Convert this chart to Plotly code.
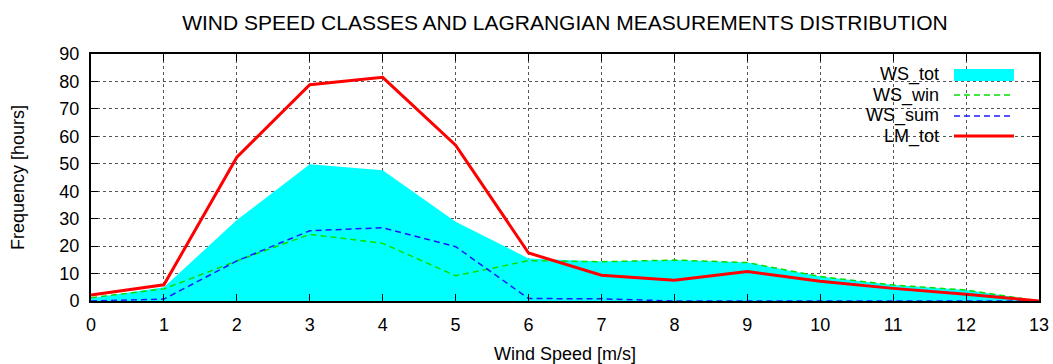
import plotly.graph_objects as go

# Wind speed classes [m/s]
wind_speed = [0, 1, 2, 3, 4, 5, 6, 7, 8, 9, 10, 11, 12, 13]

# Hours per wind speed class
ws_tot = [1.0, 5.0, 29.5, 49.8, 47.6, 28.9, 15.5, 14.4, 14.9, 14.0, 8.9, 5.8, 4.0, 0.0]
ws_win = [1.2, 4.4, 14.6, 24.3, 21.0, 9.2, 14.7, 14.3, 14.9, 14.0, 8.9, 5.8, 4.0, 0.0]
ws_sum = [0.0, 0.7, 14.6, 25.6, 26.7, 19.8, 0.9, 0.8, 0.0, 0.0, 0.0, 0.0, 0.0, 0.0]
lm_tot = [2.2, 5.9, 52.4, 78.8, 81.5, 56.8, 17.5, 9.4, 7.6, 10.7, 7.2, 4.6, 2.5, 0.0]

x_ticks = list(range(0, 14))
y_ticks = list(range(0, 91, 10))

FONT = "Liberation Sans, Arial, Helvetica, sans-serif"

fig = go.Figure()

fig.add_trace(go.Scatter(
    x=wind_speed, y=ws_tot, name="WS_tot", mode="lines",
    fill="tozeroy", fillcolor="#00ffff", line=dict(color="#00ffff", width=0),
))
fig.add_trace(go.Scatter(
    x=wind_speed, y=ws_win, name="WS_win", mode="lines",
    line=dict(color="#00e000", width=1.5, dash="6px,4px"),
))
fig.add_trace(go.Scatter(
    x=wind_speed, y=ws_sum, name="WS_sum", mode="lines",
    line=dict(color="#1a1aff", width=1.5, dash="6px,4px"),
))
fig.add_trace(go.Scatter(
    x=wind_speed, y=lm_tot, name="LM_tot", mode="lines",
    line=dict(color="#ff0000", width=3),
))

axis_common = dict(
    showline=True, linecolor="black", linewidth=2, mirror="ticks",
    ticks="inside", ticklen=7, tickcolor="black", tickwidth=1,
    showgrid=True, gridcolor="#555555", griddash="dot", gridwidth=1,
    zeroline=False, automargin=False,
    tickfont=dict(family=FONT, size=18, color="black"),
)

fig.update_xaxes(
    range=[0, 13], tickvals=x_ticks, ticklabelstandoff=6,
    title=dict(text="Wind Speed [m/s]", font=dict(family=FONT, size=18, color="black"), standoff=14),
    **axis_common,
)
fig.update_yaxes(
    range=[0, 90], tickvals=y_ticks, ticklabelstandoff=6,
    title=dict(text="Frequency [hours]", font=dict(family=FONT, size=18, color="black"), standoff=30),
    **axis_common,
)

# Key box in the upper right corner: white backdrop, right-aligned labels, line samples
names = ["WS_tot", "WS_win", "WS_sum", "LM_tot"]
samples = [
    dict(color="#00ffff", width=12, dash="solid"),
    dict(color="#00e000", width=1.5, dash="6px,4px"),
    dict(color="#1a1aff", width=1.5, dash="6px,4px"),
    dict(color="#ff0000", width=3, dash="solid"),
]
shapes = [dict(type="rect", xref="paper", yref="paper", x0=0.8186, x1=0.981, y0=0.623, y1=1.0,
               fillcolor="white", line=dict(width=0), layer="between")]
annotations = []
row_y = [0.915, 0.834, 0.749, 0.668]
for name, style, yy in zip(names, samples, row_y):
    annotations.append(dict(text=name, xref="paper", yref="paper", x=0.8966, y=yy,
                            xanchor="right", yanchor="middle", showarrow=False,
                            font=dict(family=FONT, size=18, color="black")))
    shapes.append(dict(type="line", xref="paper", yref="paper", x0=0.9103, x1=0.9736, y0=yy, y1=yy,
                       line=style, layer="above"))

fig.update_layout(
    width=1053, height=364,
    margin=dict(l=91, r=14, t=54, b=63),
    paper_bgcolor="white", plot_bgcolor="white",
    title=dict(text="WIND SPEED CLASSES AND LAGRANGIAN MEASUREMENTS DISTRIBUTION",
               x=0.5365, xanchor="center", y=0.938, yanchor="middle",
               font=dict(family=FONT, size=21, color="black")),
    showlegend=False,
    shapes=shapes,
    annotations=annotations,
)

fig.write_html("out.html")
